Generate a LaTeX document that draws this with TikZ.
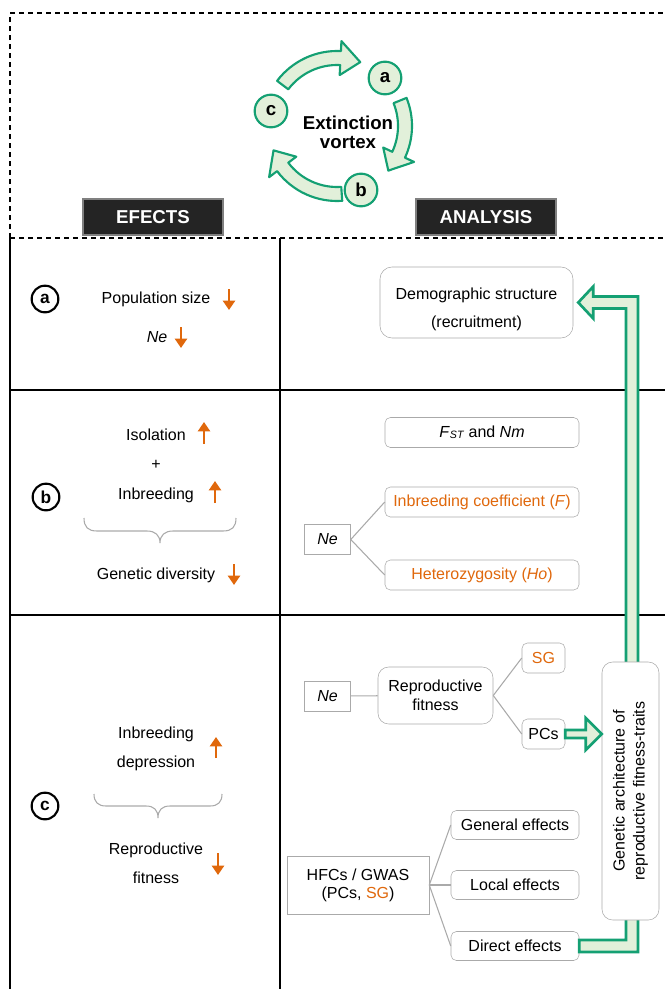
\documentclass[tikz,border=0pt]{standalone}
\usepackage{fontspec}
\setmainfont{Liberation Sans}
\usepackage{tikz}
\usetikzlibrary{arrows.meta,calc,positioning}
\definecolor{vgreen}{RGB}{20,160,115}
\definecolor{vfill}{RGB}{226,240,218}
\definecolor{trendorange}{RGB}{224,104,12}
\definecolor{boxgrey}{RGB}{170,170,170}
\definecolor{headblack}{RGB}{36,36,36}
% curved hollow arrow of the vortex: tail angle, head base angle, tip angle
\newcommand{\vortexarrow}[3]{%
  \draw[vgreen,fill=vfill,line width=1.6pt,line join=round]
    (#1:75) arc[start angle=#1,end angle=#2,radius=75] -- (#2:85) -- (#3:68)
    -- (#2:51) -- (#2:61) arc[start angle=#2,end angle=#1,radius=61] -- cycle;}

\begin{document}
\begin{tikzpicture}[x=0.75pt,y=-0.75pt,>=Latex,
  font=\fontsize{12}{14}\selectfont,
  framedash/.style={line width=0.8pt,dash pattern=on 3.75pt off 3pt},
  frameline/.style={line width=1pt},
  headbox/.style={fill=headblack,draw=gray,line width=1.2pt,text=white,
    font=\fontsize{14}{16}\selectfont\bfseries,minimum width=105pt,minimum height=27pt,inner sep=0pt},
  vcirc/.style={circle,draw=vgreen,fill=vfill,line width=1.6pt,minimum size=24.5pt,inner sep=0pt,
    font=\fontsize{14}{15}\selectfont\bfseries},
  tag/.style={circle,draw,line width=1.6pt,minimum size=20pt,inner sep=0pt,
    font=\fontsize{13}{15}\selectfont\bfseries},
  rbox/.style={draw=boxgrey,fill=white,rounded corners=4pt,align=center,inner sep=1pt},
  sqbox/.style={draw=boxgrey,fill=white,align=center,inner sep=1pt},
  row/.style={minimum width=145.5pt,minimum height=22.5pt},
  eff/.style={minimum width=96pt,minimum height=21.75pt},
  small/.style={minimum width=32.25pt,minimum height=22.5pt},
  link/.style={draw=boxgrey,line width=0.8pt},
  trend/.style={trendorange,line width=2pt,-{Triangle[length=7pt,width=9pt]}},
  brace/.style={boxgrey,line width=0.8pt},
  fat/.style={vgreen,fill=vfill,line width=2pt,line join=miter}]

\useasboundingbox (0,0) rectangle (665,989);

% frame
\draw[framedash] (10,238) -- (10,13) -- (665,13);
\draw[framedash] (10,238) -- (665,238);
\draw[frameline] (10,238) -- (10,989) (280,238) -- (280,989);
\draw[frameline] (10,390) -- (665,390) (10,615) -- (665,615);

% extinction vortex
\begin{scope}[shift={(337,126)},yscale=-1]
  \vortexarrow{143}{87}{70}
  \vortexarrow{22}{-25}{-41}
  \vortexarrow{-86}{-143}{-159}
\end{scope}
\node[vcirc] (va) at (385,78) {a};
\node[vcirc] (vb) at (361,190) {b};
\node[vcirc] (vc) at (271,111) {c};
\node[align=center,font=\fontsize{14}{14.5}\selectfont\bfseries] (vortex) at (348,132) {Extinction\\vortex};

\node[headbox] (efects) at (153,217) {EFECTS};
\node[headbox] (analysis) at (486,217) {ANALYSIS};

% row a
\node[tag] (taga) at (45,299) {a};
\node (popsize) at (156,299) {Population size};
\node (nea) at (157,337) {\textit{Ne}};
\draw[trend] (229,289) -- (229,310);
\draw[trend] (181,327) -- (181,348);
\node[rbox,rounded corners=9pt,minimum width=144.75pt,minimum height=53.25pt] (demog) at (476.5,302.5) {};
\node[align=center,font=\fontsize{12}{21}\selectfont] (demogtext) at (476.5,309) {Demographic structure\\(recruitment)};

% row b
\node[tag] (tagb) at (46,497) {b};
\node (isol) at (156,435) {Isolation};
\node (plus) at (156,465) {+};
\node (inbr) at (156,495) {Inbreeding};
\node (gendiv) at (156,575) {Genetic diversity};
\draw[trend] (204,444) -- (204,422);
\draw[trend] (215,503) -- (215,481);
\draw[trend] (234,564) -- (234,585);
\draw[brace] (84,518) .. controls (84,527) and (88,531) .. (97,531) -- (147,531)
  .. controls (155,531) and (160,535) .. (160,543) .. controls (160,535) and (165,531) .. (173,531)
  -- (223,531) .. controls (232,531) and (236,527) .. (236,518);

\node[rbox,row] (fst) at (482,432.5) {\textit{F}\raisebox{-1pt}{\fontsize{8}{9}\selectfont\textit{ST}} and \textit{Nm}};
\node[rbox,row,text=trendorange] (inbcoef) at (482,502) {Inbreeding coefficient (\textit{F})};
\node[rbox,row,text=trendorange] (hetero) at (482,575) {Heterozygosity (\textit{Ho})};
\node[sqbox,minimum width=34.5pt,minimum height=22.5pt] (neb) at (327.5,539.5) {\textit{Ne}};
\draw[link] (neb.east) -- (inbcoef.west);
\draw[link] (neb.east) -- (hetero.west);

% row c
\node[tag] (tagc) at (45,806) {c};
\node[align=center,font=\fontsize{12}{21.75}\selectfont] (inbdep) at (156,749) {Inbreeding\\depression};
\node[align=center,font=\fontsize{12}{21.75}\selectfont] (repfit) at (156,863) {Reproductive\\fitness};
\draw[trend] (216,758) -- (216,737);
\draw[trend] (218,853) -- (218,875);
\draw[brace] (94,794) .. controls (94,802) and (98,806) .. (106,806) -- (146,806)
  .. controls (154,806) and (158,810) .. (158,818) .. controls (158,810) and (162,806) .. (170,806)
  -- (210,806) .. controls (218,806) and (222,802) .. (222,794);

\node[sqbox,minimum width=34.5pt,minimum height=22.5pt] (nec) at (327.5,696) {\textit{Ne}};
\node[rbox,rounded corners=8pt,minimum width=86.25pt,minimum height=42.75pt,
  font=\fontsize{12}{14.25}\selectfont] (repro) at (435.5,695.5) {Reproductive\\fitness};
\node[rbox,small,text=trendorange] (sg) at (543.5,658) {SG};
\node[rbox,small] (pcs) at (543.5,734) {PCs};
\draw[link] (nec) -- (repro);
\draw[link] (repro.east) -- (sg.west);
\draw[link] (repro.east) -- (pcs.west);

\node[sqbox,minimum width=106.5pt,minimum height=43.5pt,font=\fontsize{12}{13.5}\selectfont] (hfc)
  at (358,885) {HFCs / GWAS\\(PCs, \textcolor{trendorange}{SG})};
\node[rbox,eff] (general) at (515,825) {General effects};
\node[rbox,eff] (local) at (515,885) {Local effects};
\node[rbox,eff] (direct) at (515,946) {Direct effects};
\draw[link] (hfc.east) -- (general.west);
\draw[link] (hfc.east) -- (local.west);
\draw[link] (hfc.east) -- (direct.west);

% feedback arrow up the right side
\coordinate (spine) at (632,302);
\draw[fat] ($(direct.east)+(0,-6)$) -- ($(spine |- direct.east)+(-6,-6)$)
  -- ($(spine |- demog.east)+(-6,6)$) -- ($(demog.east)+(20,6)$) -- ($(demog.east)+(20,16)$)
  -- ($(demog.east)+(5,0)$) -- ($(demog.east)+(20,-16)$) -- ($(demog.east)+(20,-6)$)
  -- ($(spine |- demog.east)+(6,-6)$) -- ($(spine |- direct.east)+(6,6)$)
  -- ($(direct.east)+(0,6)$) -- cycle;

\node[rbox,rounded corners=8pt,rotate=90,minimum width=193.5pt,minimum height=42.75pt,
  font=\fontsize{12}{15}\selectfont] (genarch) at (630.5,791) {Genetic architecture of\\reproductive fitness-traits};
\coordinate (pctip) at (genarch.north |- pcs.east);
\draw[fat] ($(pcs.east)+(0,-4)$) -- ($(pctip)+(-16,-4)$) -- ($(pctip)+(-16,-16)$) -- (pctip)
  -- ($(pctip)+(-16,16)$) -- ($(pctip)+(-16,4)$) -- ($(pcs.east)+(0,4)$) -- cycle;
\end{tikzpicture}
\end{document}
